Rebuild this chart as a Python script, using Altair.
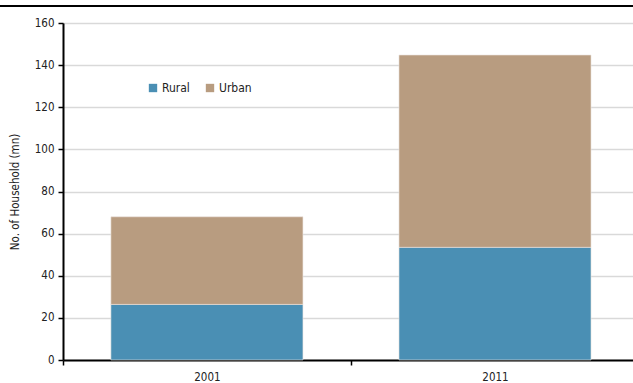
import altair as alt
import pandas as pd

years = ["2001", "2011"]
series = ["Rural", "Urban"]
rural = [26.4, 53.5]
urban = [41.6, 91.3]

colors = ["#4A8FB4", "#B89C80"]
font = "'Liberation Sans Narrow', 'Arial Narrow', 'DejaVu Sans Condensed', 'Liberation Sans', sans-serif"

rows = []
for i, y in enumerate(years):
    rows.append({"year": y, "type": "Rural", "value": rural[i], "ord": 0})
    rows.append({"year": y, "type": "Urban", "value": urban[i], "ord": 1})
df = pd.DataFrame(rows)

bars = alt.Chart(df).mark_bar(stroke="#ECE6E0", strokeWidth=0.6).encode(
    x=alt.X(
        "year:N",
        title=None,
        sort=years,
        scale=alt.Scale(paddingInner=0.3333, paddingOuter=0.156, align=0.533),
        axis=alt.Axis(
            labelAngle=0, tickOffset=-144, labelOffset=144,
            domainColor="#000000", domainWidth=2,
            tickColor="#000000", tickWidth=1.5, tickSize=5, labelPadding=6,
            labelFont=font, labelFontSize=11.5, labelColor="#222222", grid=False,
        ),
    ),
    y=alt.Y(
        "value:Q",
        title="No. of Household (mn)",
        stack="zero",
        scale=alt.Scale(domain=[0, 160], nice=False),
        axis=alt.Axis(
            values=list(range(0, 161, 20)), domainColor="#000000", domainWidth=2,
            tickColor="#000000", tickWidth=1.5, tickSize=5, labelPadding=4,
            labelFont=font, labelFontSize=11.5, labelColor="#222222",
            gridColor="#D9D9D9", gridWidth=1.5,
            titleFont=font, titleFontSize=11.5, titleFontWeight="normal",
            titleColor="#222222", titlePadding=14,
        ),
    ),
    color=alt.Color(
        "type:N",
        sort=series,
        scale=alt.Scale(domain=series, range=colors),
        legend=alt.Legend(
            title=None, orient="none", direction="horizontal",
            legendX=84, legendY=59, symbolType="square", symbolSize=70,
            symbolStrokeWidth=0, labelFont=font, labelFontSize=12,
            labelColor="#222222", columnPadding=14, labelOffset=3,
        ),
    ),
    order=alt.Order("ord:Q"),
)

top_rule = alt.Chart(df).mark_rule(color="#000000", strokeWidth=2).encode(
    x=alt.value(-63), x2=alt.value(570), y=alt.value(-17)
)

chart = (
    alt.layer(bars, top_rule)
    .properties(
        width=570, height=337,
        autosize=alt.AutoSizeParams(type="none"),
        padding={"left": 63, "top": 23, "right": 0, "bottom": 23},
    )
    .configure_view(stroke=None)
    .configure(background="white")
)

chart.save("out.html", embed_options={"renderer": "svg", "actions": False})
